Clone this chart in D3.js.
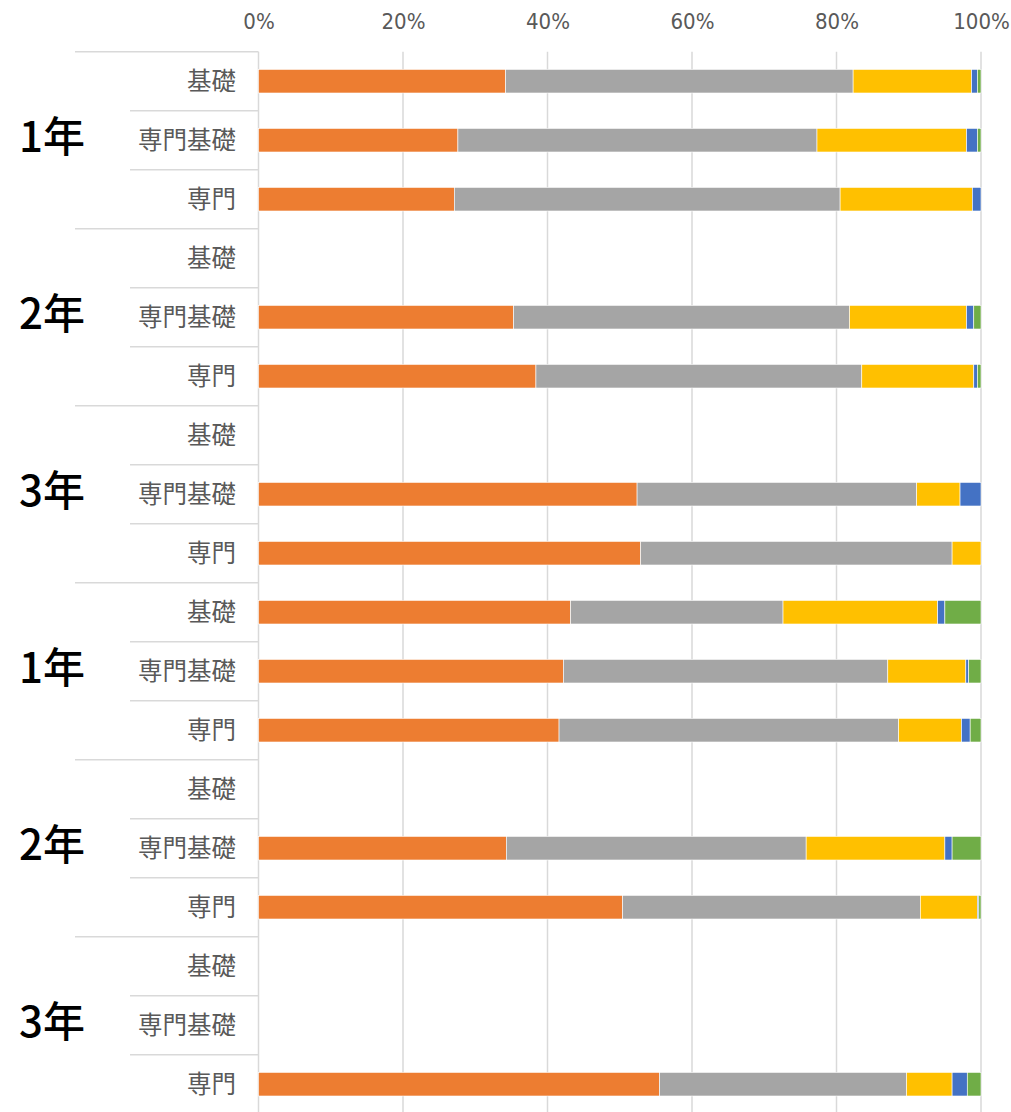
<!DOCTYPE html>
<html>
<head>
<meta charset="utf-8">
<script src="https://cdn.jsdelivr.net/npm/d3@7"></script>
<style>
  body { margin: 0; background: #fff; }
  svg { display: block; }
</style>
</head>
<body>
<svg id="chart" width="1011" height="1112"></svg>
<script>
// 行ラベル(2段)
var groups = ["1年", "2年", "3年", "1年", "2年", "3年"];
var subjects = ["基礎", "専門基礎", "専門"];

// 系列ごとの割合(%) 空の行は null
var s1 = [34.2, 27.6, 27.1, null, 35.3, 38.4, null, 52.4, 52.9, 43.2, 42.2, 41.6, null, 34.3, 50.4, null, null, 55.5];
var s2 = [48.1, 49.7, 53.4, null, 46.5, 45.1, null, 38.7, 43.1, 29.4, 44.9, 47.0, null, 41.5, 41.2, null, null, 34.2];
var s3 = [16.4, 20.7, 18.3, null, 16.2, 15.5, null, 6.0, 4.0, 21.4, 10.8, 8.7, null, 19.2, 7.9, null, null, 6.3];
var s4 = [0.8, 1.5, 1.2, null, 1.0, 0.5, null, 2.9, 0, 1.0, 0.4, 1.2, null, 1.0, 0.2, null, null, 2.1];
var s5 = [0.5, 0.5, 0, null, 1.0, 0.5, null, 0, 0, 5.0, 1.7, 1.5, null, 4.0, 0.3, null, null, 1.9];
var tickValues = [0, 0.2, 0.4, 0.6, 0.8, 1];

var colors = ["#ED7D31", "#A5A5A5", "#FFC000", "#4472C4", "#70AD47"];
var series = [s1, s2, s3, s4, s5];

var svg = d3.select("#chart");
var rows = d3.range(groups.length * subjects.length);

var x = d3.scaleLinear().domain([0, 1]).range([258.5, 981]);
var y = d3.scaleBand().domain(rows).range([51.7, 1113.7])
    .paddingInner(0.6).paddingOuter(0.3);
var step = y.step();

// グリッド線
svg.append("g").selectAll("line")
    .data(tickValues)
    .enter().append("line")
    .attr("x1", d => x(d)).attr("x2", d => x(d))
    .attr("y1", 51.7).attr("y2", 1112)
    .style("stroke", "#d9d9d9").style("stroke-width", 1.5);

// 上の目盛ラベル
svg.append("g")
    .attr("transform", "translate(0,24)")
    .call(d3.axisTop(x).tickValues(tickValues).tickFormat(d3.format(".0%")).tickSize(0))
    .call(g => g.select(".domain").remove())
    .selectAll("text")
    .attr("dy", "0.35em")
    .style("font-family", "'Liberation Sans Narrow', 'DejaVu Sans Condensed', sans-serif")
    .style("font-size", "22px")
    .style("fill", "#595959");

// 積み上げデータ
var table = rows.map(function (i) {
    var acc = 0;
    return series.map(function (s, k) {
        var v = s[i] == null ? 0 : s[i] / 100;
        var seg = { row: i, k: k, x0: acc, x1: acc + v };
        acc += v;
        return seg;
    }).filter(d => d.x1 > d.x0);
});

svg.append("g").selectAll("g")
    .data(table)
    .enter().append("g")
    .selectAll("rect")
    .data(d => d)
    .enter().append("rect")
    .attr("x", d => x(d.x0))
    .attr("width", d => x(d.x1) - x(d.x0))
    .attr("y", d => y(d.row))
    .attr("height", y.bandwidth())
    .style("fill", d => colors[d.k])
    .style("stroke", "#ffffff")
    .style("stroke-width", 0.6);

// 左側の区切り線
var top0 = 51.7;
svg.append("g").selectAll("line")
    .data(d3.range(rows.length))
    .enter().append("line")
    .attr("x1", d => d % 3 === 0 ? 75 : 130)
    .attr("x2", 258.5)
    .attr("y1", d => top0 + d * step)
    .attr("y2", d => top0 + d * step)
    .style("stroke", "#d9d9d9").style("stroke-width", 1.5);

// 小項目ラベル
svg.append("g").selectAll("text")
    .data(rows)
    .enter().append("text")
    .attr("x", 236)
    .attr("y", d => y(d) + y.bandwidth() / 2)
    .attr("dy", "0.35em")
    .attr("text-anchor", "end")
    .style("font-family", "'Noto Sans CJK JP', sans-serif")
    .style("font-size", "24.5px")
    .style("fill", "#595959")
    .text(d => subjects[d % 3]);

// 学年ラベル
svg.append("g").selectAll("text")
    .data(groups)
    .enter().append("text")
    .attr("x", 52)
    .attr("y", (d, i) => y(i * 3 + 1) + y.bandwidth() / 2 - 3)
    .attr("dy", "0.36em")
    .attr("text-anchor", "middle")
    .style("font-family", "'Noto Sans CJK JP', sans-serif")
    .style("font-size", "42px")
    .style("font-weight", 500)
    .style("fill", "#000")
    .text(d => d);
</script>
</body>
</html>
